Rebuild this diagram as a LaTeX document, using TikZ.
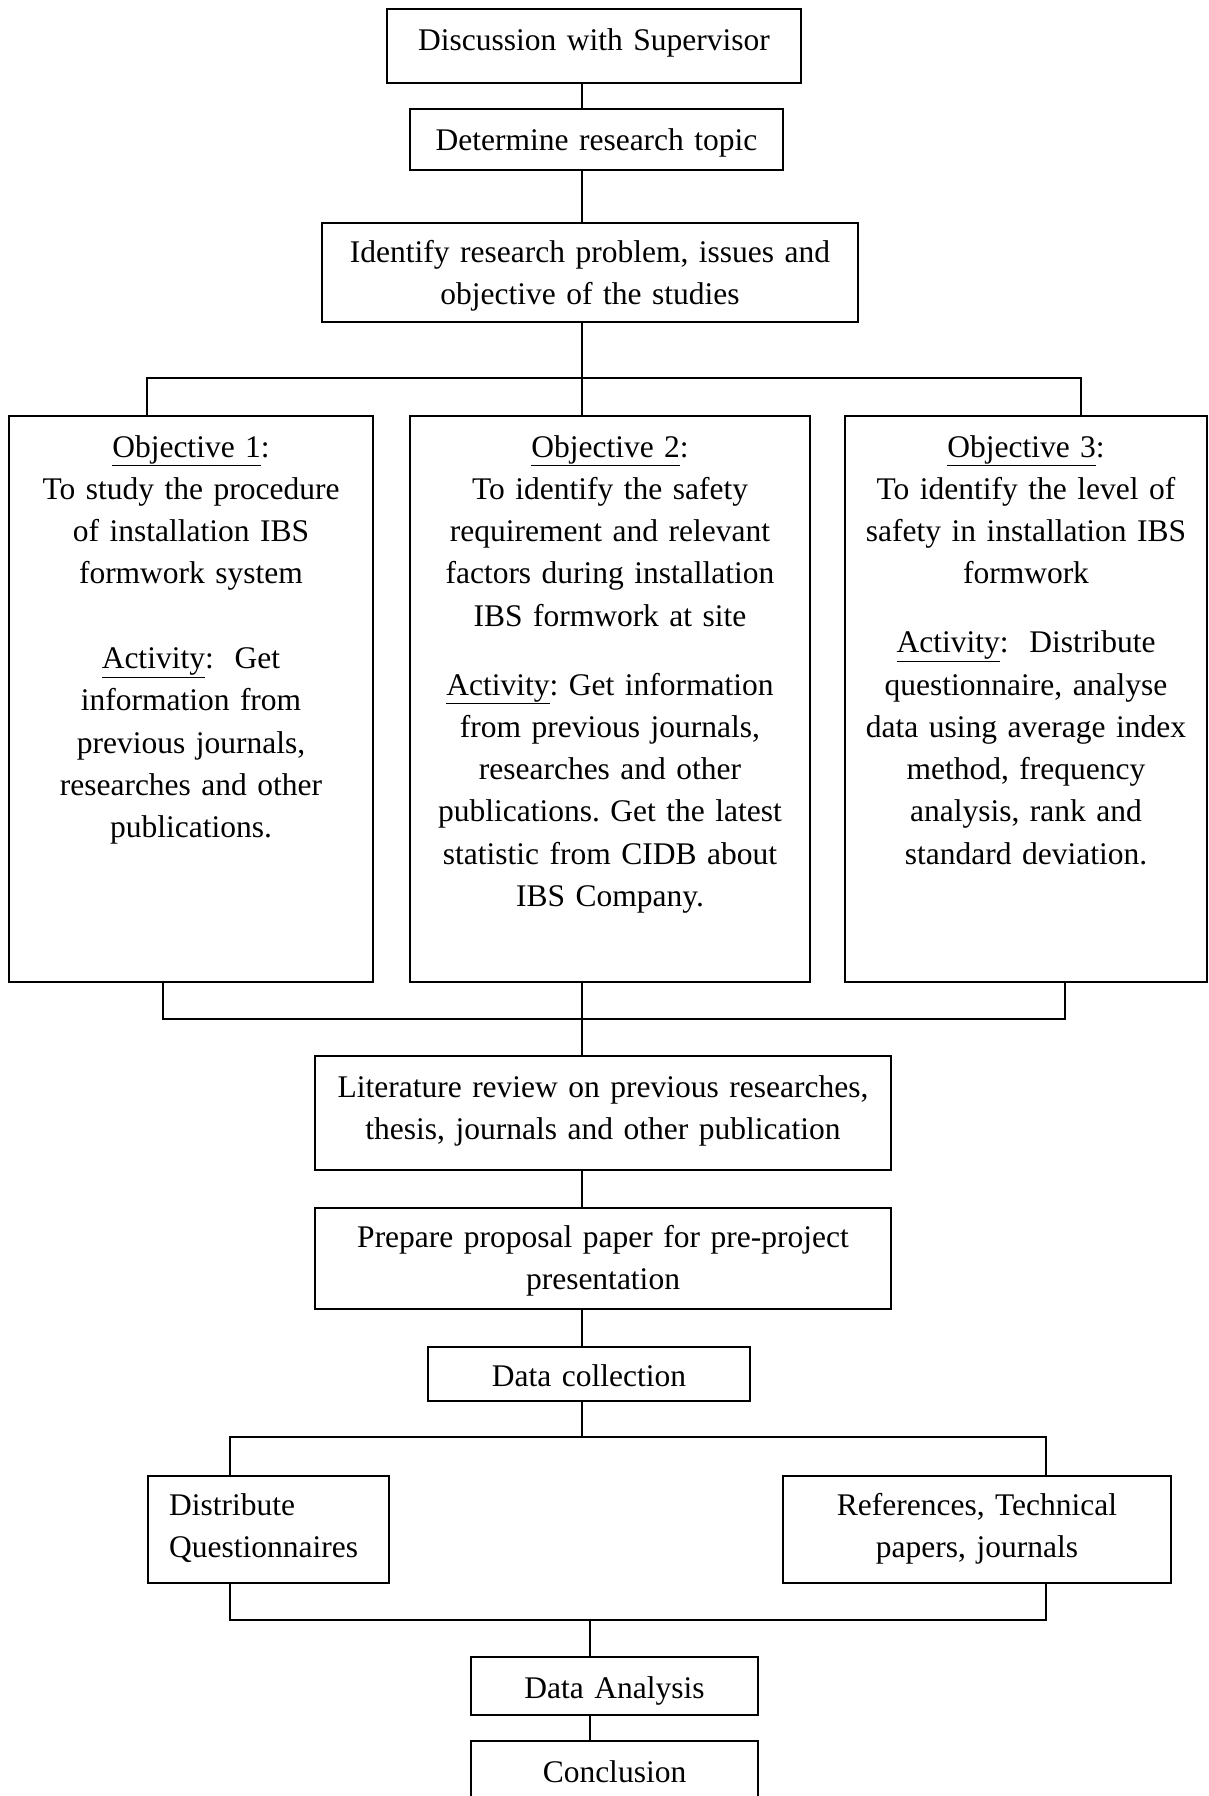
\documentclass[tikz,border=0pt]{standalone}
\usepackage{fontspec}
\setmainfont{Liberation Serif}
\frenchspacing
\tikzset{
  box/.style={draw, line width=1.6pt, inner sep=0pt},
  conn/.style={line width=1.2pt},
  txt/.style={font=\fontsize{31.5}{42.3}\selectfont\frenchspacing, inner sep=0pt, anchor=base, text width=760pt, align=center},
  ltxt/.style={font=\fontsize{31.5}{42.3}\selectfont\frenchspacing, inner sep=0pt, anchor=base west, text width=230pt, align=left}
}
\begin{document}
\begin{tikzpicture}[x=1pt,y=-1pt]
\useasboundingbox (0,0) rectangle (1208,1796);
\clip (0,0) rectangle (1208,1796);
\fill[white] (0,0) rectangle (1208,1796);

% boxes
\node[box, minimum width=414pt, minimum height=74pt] (b1) at (594,46) {};
\node[box, minimum width=373pt, minimum height=61pt] (b2) at (596.5,139.5) {};
\node[box, minimum width=536pt, minimum height=99pt] (b3) at (590,272.5) {};
\node[box, minimum width=364pt, minimum height=566pt] (o1) at (191,699) {};
\node[box, minimum width=400pt, minimum height=566pt] (o2) at (610,699) {};
\node[box, minimum width=362pt, minimum height=566pt] (o3) at (1026,699) {};
\node[box, minimum width=576pt, minimum height=114pt] (lit) at (603,1113) {};
\node[box, minimum width=576pt, minimum height=101pt] (prep) at (603,1258.5) {};
\node[box, minimum width=322pt, minimum height=54pt] (dc) at (589,1374) {};
\node[box, minimum width=241pt, minimum height=107pt] (dq) at (268.5,1529.5) {};
\node[box, minimum width=388pt, minimum height=107pt] (ref) at (977,1529.5) {};
\node[box, minimum width=287pt, minimum height=58pt] (da) at (614.5,1686) {};
\node[box, minimum width=287pt, minimum height=69pt] (con) at (614.5,1775.5) {};

% texts
\node[txt] (t1) at (594,50) {Discussion with Supervisor};
\node[txt] (t2) at (596.5,150) {Determine research topic};
\node[txt] (t3) at (590,262) {Identify research problem, issues and\\ objective of the studies};
\node[txt] (to1) at (191,457) {\underline{Objective 1}:\\ To study the procedure\\ of installation IBS\\ formwork system\\[42.3pt]
 \underline{Activity}:\ \ Get\\ information from\\ previous journals,\\ researches and other\\ publications.};
\node[txt] (to2) at (610,457) {\underline{Objective 2}:\\ To identify the safety\\ requirement and relevant\\ factors during installation\\ IBS formwork at site\\[26.5pt]
 \underline{Activity}: Get information\\ from previous journals,\\ researches and other\\ publications. Get the latest\\ statistic from CIDB about\\ IBS Company.};
\node[txt] (to3) at (1026,457) {\underline{Objective 3}:\\ To identify the level of\\ safety in installation IBS\\ formwork\\[26.5pt]
 \underline{Activity}:\ \ Distribute\\ questionnaire, analyse\\ data using average index\\ method, frequency\\ analysis, rank and\\ standard deviation.};
\node[txt] (tlit) at (603,1097) {Literature review on previous researches,\\ thesis, journals and other publication};
\node[txt] (tprep) at (603,1247) {Prepare proposal paper for pre-project\\ presentation};
\node[txt] (tdc) at (589,1386) {Data collection};
\node[ltxt] (tdq) at (169,1515) {Distribute\\ Questionnaires};
\node[txt] (tref) at (977,1515) {References, Technical\\ papers, journals};
\node[txt] (tda) at (614.5,1698) {Data Analysis};
\node[txt] (tcon) at (614.5,1782) {Conclusion};

% junctions
\coordinate (spine) at (582,0);
\coordinate (spineb) at (590,0);
\coordinate (barAl) at (147,378);
\coordinate (barAr) at (1081,378);
\coordinate (barBl) at (163,1019);
\coordinate (barBr) at (1065,1019);
\coordinate (barCl) at (230,1437);
\coordinate (barCr) at (1046,1437);
\coordinate (barDl) at (230,1620);
\coordinate (barDr) at (1046,1620);

% connectors
\draw[conn] (b1.south -| spine) -- (b2.north -| spine);
\draw[conn] (b2.south -| spine) -- (b3.north -| spine);
\draw[conn] (b3.south -| spine) -- (o2.north -| spine);
\draw[conn] (o1.north -| barAl) -- (barAl) -- (barAr) -- (o3.north -| barAr);
\draw[conn] (o1.south -| barBl) -- (barBl) -- (barBr) -- (o3.south -| barBr);
\draw[conn] (o2.south -| spine) -- (lit.north -| spine);
\draw[conn] (lit.south -| spine) -- (prep.north -| spine);
\draw[conn] (prep.south -| spine) -- (dc.north -| spine);
\draw[conn] (dc.south -| spine) -- (barCl -| spine);
\draw[conn] (dq.north -| barCl) -- (barCl) -- (barCr) -- (ref.north -| barCr);
\draw[conn] (dq.south -| barDl) -- (barDl) -- (barDr) -- (ref.south -| barDr);
\draw[conn] (barDl -| spineb) -- (da.north -| spineb);
\draw[conn] (da.south -| spineb) -- (con.north -| spineb);
\end{tikzpicture}
\end{document}
